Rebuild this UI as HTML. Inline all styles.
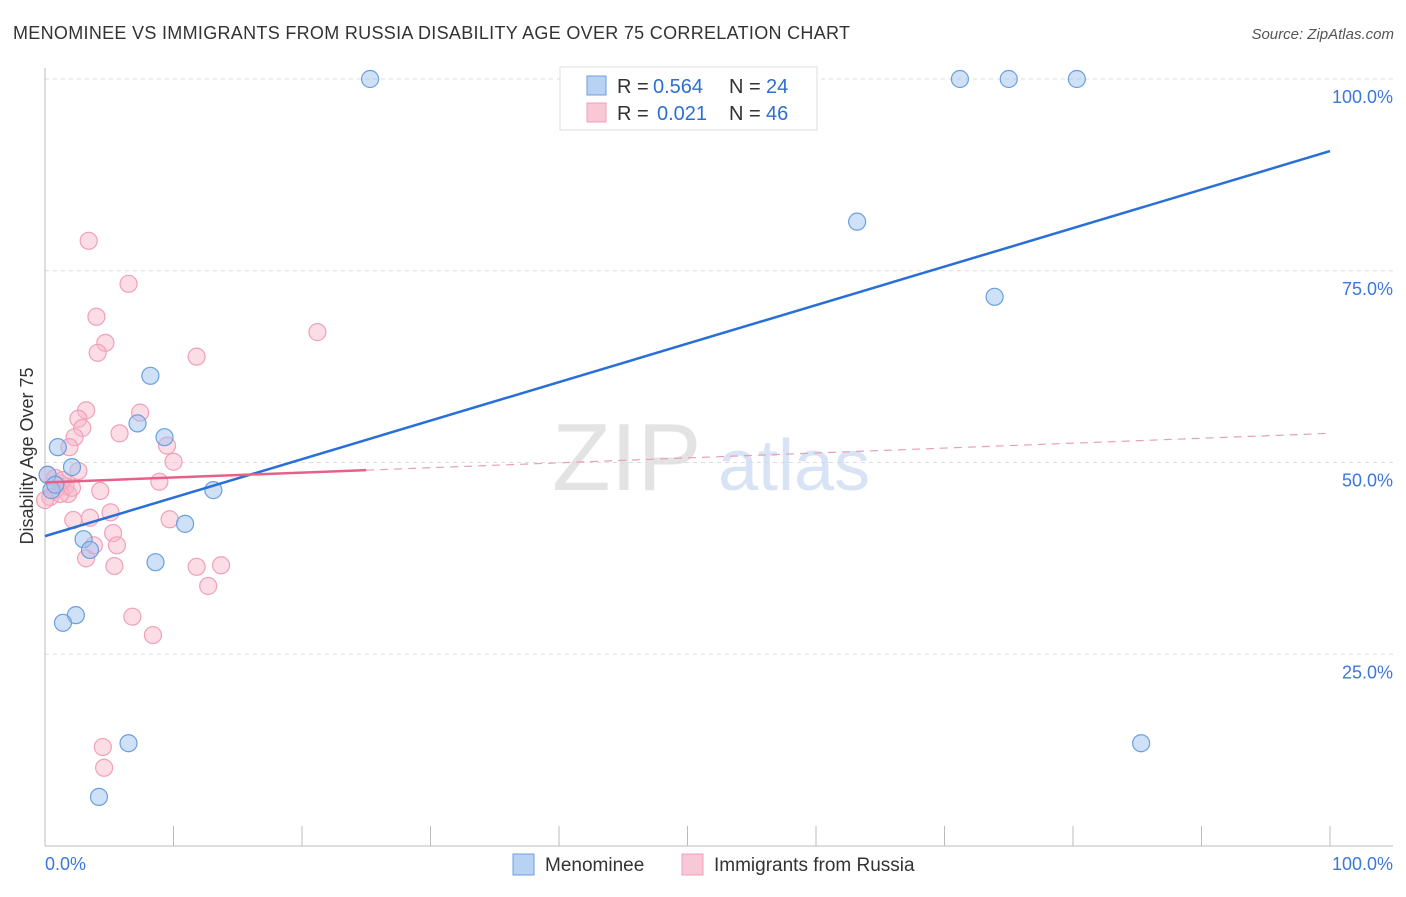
<!DOCTYPE html>
<html><head><meta charset="utf-8"><style>
body{margin:0;background:#fff;font-family:"Liberation Sans",sans-serif}
svg text{font-family:"Liberation Sans",sans-serif}
</style></head><body>
<svg id="chart" width="1406" height="892" xmlns="http://www.w3.org/2000/svg">
<text x="13" y="39" font-size="18" fill="#333" textLength="837">MENOMINEE VS IMMIGRANTS FROM RUSSIA DISABILITY AGE OVER 75 CORRELATION CHART</text>
<text x="1394" y="39" font-size="15" fill="#555" font-style="italic" text-anchor="end">Source: ZipAtlas.com</text>
<g id="grid"></g>
<text x="552" y="490" font-size="96" fill="#ddd" font-family="Liberation Serif" opacity="0.8">ZIP</text>
<text x="718" y="490" font-size="72" fill="#c8daf2" opacity="0.7">atlas</text>
<text transform="translate(33,456) rotate(-90)" font-size="18" fill="#333" text-anchor="middle">Disability Age Over 75</text>
<g id="marks"></g>
<g>
<rect x="560" y="67" width="257" height="63" fill="#fff" stroke="#ddd"/>
<rect x="587" y="76" width="19" height="19" fill="#b8d2f4" stroke="#6a9fe0"/>
<rect x="587" y="103" width="19" height="19" fill="#f9c8d6" stroke="#f0a0b8"/>
<text x="617" y="93" font-size="20" fill="#333">R =</text>
<text x="653" y="93" font-size="20" fill="#2d6fd1">0.564</text>
<text x="729" y="93" font-size="20" fill="#333">N =</text>
<text x="766" y="93" font-size="20" fill="#2d6fd1">24</text>
<text x="617" y="120" font-size="20" fill="#333">R =</text>
<text x="657" y="120" font-size="20" fill="#2d6fd1">0.021</text>
<text x="729" y="120" font-size="20" fill="#333">N =</text>
<text x="766" y="120" font-size="20" fill="#2d6fd1">46</text>
</g>
<g>
<rect x="513" y="854" width="21" height="21" fill="#b8d2f4" stroke="#6a9fe0"/>
<text x="545" y="871" font-size="19" fill="#333">Menominee</text>
<rect x="682" y="854" width="21" height="21" fill="#f9c8d6" stroke="#f0a0b8"/>
<text x="714" y="871" font-size="19" fill="#333">Immigrants from Russia</text>
</g>
</svg>
<script>
const blueX=[25.3,71.2,75.0,80.3,63.2,73.9,8.2,7.2,9.3,1.0,2.1,13.1,10.9,3.0,3.5,8.6,2.4,1.4,6.5,4.2,85.3,0.2,0.5,0.8];
const blueY=[100,100,100,100,81.4,71.6,61.3,55.1,53.3,52.0,49.4,46.4,42.0,40.0,38.6,37.0,30.1,29.1,13.4,6.4,13.4,48.4,46.4,47.1];
const pinkX=[3.4,6.5,4.0,4.7,4.1,11.8,21.2,3.2,7.4,2.6,2.9,5.8,2.3,1.9,9.5,10.0,2.6,8.9,0.2,1.2,1.6,0.8,1.8,0.4,4.3,1.2,5.1,3.5,2.2,9.7,5.3,5.6,3.8,3.2,5.4,11.8,13.7,12.7,6.8,8.4,4.5,4.6,0,0.8,1.4,2.1];
const pinkY=[78.9,73.3,69.0,65.6,64.3,63.8,67.0,56.8,56.5,55.7,54.5,53.8,53.3,52.0,52.2,50.1,48.9,47.5,48.4,47.3,46.9,46.4,45.9,45.5,46.3,45.9,43.5,42.8,42.5,42.6,40.8,39.2,39.2,37.5,36.5,36.4,36.6,33.9,29.9,27.5,12.9,10.2,45.1,48.0,47.7,46.7];
const blueTrend=[40.4,90.6];
const pinkTrend=[47.4,49.0,53.8];
const yTicks=[25,50,75,100];
const yTickLabels=["25.0%","50.0%","75.0%","100.0%"];
const xTicks=[0,10,20,30,40,50,60,70,80,90,100];

const NS="http://www.w3.org/2000/svg";
const sx=v=>45+v*12.85, sy=v=>846-v*7.67;
function mk(p,t,a){const e=document.createElementNS(NS,t);for(const k in a)e.setAttribute(k,a[k]);p.appendChild(e);return e;}
const grid=document.getElementById('grid'), marks=document.getElementById('marks');
yTicks.forEach((t,i)=>{
 const l=mk(grid,'line',{x1:45,x2:1393,y1:sy(t),y2:sy(t),stroke:'#ddd','stroke-dasharray':'4,4'});
 
 
 const tx=mk(grid,'text',{x:1393,y:sy(t)+24,'font-size':18,fill:'#3b78d8','text-anchor':'end'});
 tx.textContent=yTickLabels[i];
 
 
});
const ax=mk(grid,'line',{x1:45,x2:1393,y1:846,y2:846,stroke:'#bbb'});


const ay=mk(grid,'line',{x1:45,x2:45,y1:68,y2:846,stroke:'#bbb'});


xTicks.forEach(t=>{
 const l=mk(grid,'line',{x1:sx(t),x2:sx(t),y1:826,y2:846,stroke:'#bbb'});
 
 
});
[[0,"0.0%","start",45],[100,"100.0%","end",1393]].forEach(d=>{
 const tx=mk(grid,'text',{x:d[3],y:870,'font-size':18,fill:'#3b78d8','text-anchor':d[2]});
 tx.textContent=d[1];
 
 
});
pinkX.forEach((x,i)=>{
 const c=mk(marks,'circle',{cx:sx(x),cy:sy(pinkY[i]),r:8.5,fill:'rgba(248,180,200,0.45)',stroke:'#f0a0b8','stroke-width':1.2});
 
 
});
blueX.forEach((x,i)=>{
 const c=mk(marks,'circle',{cx:sx(x),cy:sy(blueY[i]),r:8.5,fill:'rgba(160,196,240,0.5)',stroke:'#6a9fe0','stroke-width':1.2});
 
 
});
const bl=mk(marks,'line',{x1:sx(0),y1:sy(blueTrend[0]),x2:sx(100),y2:sy(blueTrend[1]),stroke:'#2a6fd6','stroke-width':2.5});


const pl=mk(marks,'line',{x1:sx(0),y1:sy(pinkTrend[0]),x2:sx(25),y2:sy(pinkTrend[1]),stroke:'#e8608a','stroke-width':2.5});


const pd=mk(marks,'line',{x1:sx(25),y1:sy(pinkTrend[1]),x2:sx(100),y2:sy(pinkTrend[2]),stroke:'#e8a0b8','stroke-width':1.2,'stroke-dasharray':'8,6'});


</script>
</body></html>
